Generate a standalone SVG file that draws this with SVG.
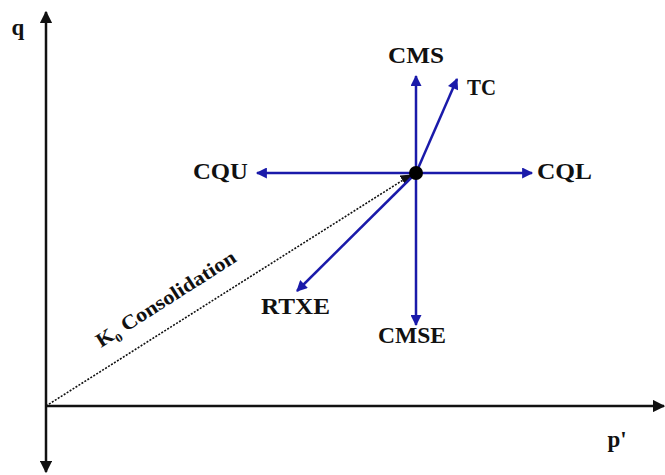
<svg xmlns="http://www.w3.org/2000/svg" width="665" height="475" viewBox="0 0 665 475">
<style>
.lbl{font-family:"Liberation Serif","Times New Roman",serif;font-weight:bold;font-size:23px;fill:#111}
.ax{stroke:#111;stroke-width:2.5;fill:none}
.bl{stroke:#1a1aaa;stroke-width:2.5;fill:none}
</style>
<defs>
<marker id="ah" viewBox="0 0 10 10" refX="9" refY="5" markerWidth="5" markerHeight="5" orient="auto" markerUnits="strokeWidth"><path d="M0,0 L10,5 L0,10 z" fill="#111"/></marker>
<marker id="bh" viewBox="0 0 10 10" refX="9" refY="5" markerWidth="5" markerHeight="4.4" orient="auto" markerUnits="strokeWidth"><path d="M0,0 L10,5 L0,10 z" fill="#1a1aaa"/></marker>
<marker id="dh" viewBox="0 0 10 10" refX="9" refY="5" markerWidth="7" markerHeight="7" orient="auto" markerUnits="strokeWidth"><path d="M0,0 L10,5 L0,10 z" fill="#111"/></marker>
</defs>
<g id="axes">
<line class="ax" x1="46" y1="406" x2="46" y2="12" marker-end="url(#ah)"/>
<line class="ax" x1="46" y1="406" x2="46" y2="472" marker-end="url(#ah)"/>
<line class="ax" x1="46" y1="406" x2="664" y2="406" marker-end="url(#ah)"/>
<text class="lbl" x="18" y="35" text-anchor="middle">q</text>
<text class="lbl" x="617" y="447" text-anchor="middle">p'</text>
</g>
<g id="connectors">
<line x1="46" y1="406" x2="411" y2="175" stroke="#111" stroke-width="1.6" stroke-dasharray="2,1.5" marker-end="url(#dh)"/>
<line class="bl" x1="416" y1="173" x2="416" y2="76" marker-end="url(#bh)"/>
<line class="bl" x1="416" y1="173" x2="457" y2="79" marker-end="url(#bh)"/>
<line class="bl" x1="416" y1="173" x2="257" y2="173" marker-end="url(#bh)"/>
<line class="bl" x1="416" y1="173" x2="532" y2="173" marker-end="url(#bh)"/>
<line class="bl" x1="416" y1="173" x2="297" y2="291" marker-end="url(#bh)"/>
<line class="bl" x1="416" y1="173" x2="416" y2="325" marker-end="url(#bh)"/>
</g>
<g id="origin"><circle cx="416" cy="173" r="7" fill="#000"/></g>
<g id="n-cms"><text class="lbl" x="388" y="63" textLength="56" lengthAdjust="spacingAndGlyphs">CMS</text></g>
<g id="n-tc"><text class="lbl" x="467" y="95" textLength="29" lengthAdjust="spacingAndGlyphs">TC</text></g>
<g id="n-cqu"><text class="lbl" x="193" y="179" textLength="55" lengthAdjust="spacingAndGlyphs">CQU</text></g>
<g id="n-cql"><text class="lbl" x="537" y="179" textLength="55" lengthAdjust="spacingAndGlyphs">CQL</text></g>
<g id="n-rtxe"><text class="lbl" x="261" y="314" textLength="69" lengthAdjust="spacingAndGlyphs">RTXE</text></g>
<g id="n-cmse"><text class="lbl" x="378" y="343" textLength="68" lengthAdjust="spacingAndGlyphs">CMSE</text></g>
<g id="k0"><text class="lbl" style="font-size:20px" transform="translate(101,348) rotate(-32.5)" textLength="162" lengthAdjust="spacingAndGlyphs">K<tspan dy="5" style="font-size:12px">0</tspan><tspan dy="-5"> Consolidation</tspan></text></g>
</svg>
